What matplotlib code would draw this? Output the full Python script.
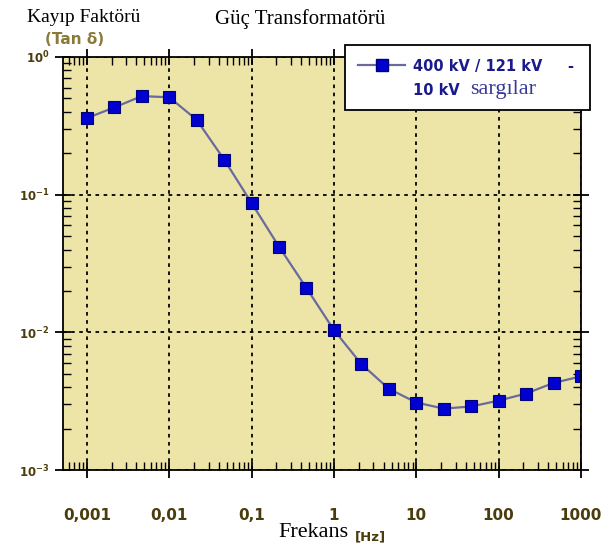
import numpy as np
import matplotlib.pyplot as plt
from matplotlib.ticker import LogLocator, NullFormatter, FixedLocator
from matplotlib.patches import Rectangle
from matplotlib.lines import Line2D

# frequency [Hz] and loss factor tan(delta)
freq = [0.001, 0.00215, 0.00464, 0.01, 0.0215, 0.0464, 0.1, 0.215, 0.464,
        1, 2.15, 4.64, 10, 21.5, 46.4, 100, 215, 464, 1000]
tand = [0.36, 0.43, 0.52, 0.51, 0.35, 0.18, 0.087, 0.042, 0.021,
        0.0104, 0.0059, 0.0039, 0.0031, 0.0028, 0.0029, 0.0032, 0.0036, 0.0043, 0.0048]

xticks = [0.001, 0.01, 0.1, 1, 10, 100, 1000]
xlabels = ["0,001", "0,01", "0,1", "1", "10", "100", "1000"]
yticks = [1e-3, 1e-2, 1e-1, 1e0]
ylabels = [r"$\mathbf{10^{-3}}$", r"$\mathbf{10^{-2}}$", r"$\mathbf{10^{-1}}$", r"$\mathbf{10^{0}}$"]

serif = "Liberation Serif"
olive = "#4a3c0c"
line_c = "#6a6a9c"
mk_face = "#0000d0"
mk_edge = "#00007a"

fig = plt.figure(figsize=(6.02, 5.48), dpi=100)
ax = fig.add_axes([0.1047, 0.142, 0.8604, 0.754])
ax.set_facecolor("#ede5a8")

ax.plot(freq, tand, color=line_c, lw=1.6, marker="s", ms=9,
        markerfacecolor=mk_face, markeredgecolor=mk_edge, mew=0.8)

ax.set_xscale("log")
ax.set_yscale("log")
ax.set_xlim(0.000513, 1000)
ax.set_ylim(1e-3, 1)

ax.xaxis.set_major_locator(FixedLocator(xticks))
ax.set_xticklabels(xlabels, fontsize=11, fontweight="bold", color=olive)
ax.yaxis.set_major_locator(FixedLocator(yticks))
ax.set_yticklabels(ylabels, fontsize=8.5, color=olive)
ax.xaxis.set_minor_locator(LogLocator(base=10, subs=np.arange(2, 10), numticks=20))
ax.yaxis.set_minor_locator(LogLocator(base=10, subs=np.arange(2, 10), numticks=20))
ax.xaxis.set_minor_formatter(NullFormatter())
ax.yaxis.set_minor_formatter(NullFormatter())

ax.tick_params(which="major", direction="inout", length=11, width=1.3,
               top=True, right=True)
ax.tick_params(which="minor", direction="in", length=6, width=1.0,
               top=True, right=True)
ax.tick_params(axis="x", which="major", pad=22)
ax.tick_params(axis="y", which="major", pad=4)
for s in ax.spines.values():
    s.set_linewidth(1.3)

ax.grid(True, which="major", color="black", ls=(0, (2, 2.5)), lw=1.3)

# legend box drawn by hand (it sticks out past the right spine)
fig.patches.append(Rectangle((0.573, 0.799), 0.407, 0.1186, transform=fig.transFigure,
                             facecolor="white", edgecolor="black", lw=1.3, zorder=5))
fig.lines.append(Line2D([0.595, 0.673], [0.881, 0.881], transform=fig.transFigure,
                        color=line_c, lw=1.6, zorder=6))
fig.lines.append(Line2D([0.634], [0.881], transform=fig.transFigure, marker="s", ms=9,
                        markerfacecolor=mk_face, markeredgecolor=mk_edge, zorder=7))
fig.text(0.686, 0.879, "400 kV / 121 kV     -", fontsize=10.5, fontweight="bold",
         color="#1a1a8c", va="center", zorder=8)
fig.text(0.686, 0.834, "10 kV", fontsize=10.5, fontweight="bold",
         color="#1a1a8c", va="center", zorder=8)
fig.text(0.781, 0.836, "sargılar", family=serif, fontsize=16, color="#3a3a98",
         va="center", zorder=8)

fig.text(0.045, 0.968, "Kayıp Faktörü", family=serif, fontsize=14, va="center")
fig.text(0.075, 0.928, "(Tan δ)", fontsize=11, fontweight="bold", color="#8a7a3a",
         va="center")
fig.text(0.357, 0.965, "Güç Transformatörü", family=serif, fontsize=15, va="center")
fig.text(0.463, 0.028, "Frekans", family=serif, fontsize=16, va="center")
fig.text(0.59, 0.02, "[Hz]", fontsize=9.5, fontweight="bold", color=olive,
         va="center")

fig.savefig("out.png", dpi=100)
